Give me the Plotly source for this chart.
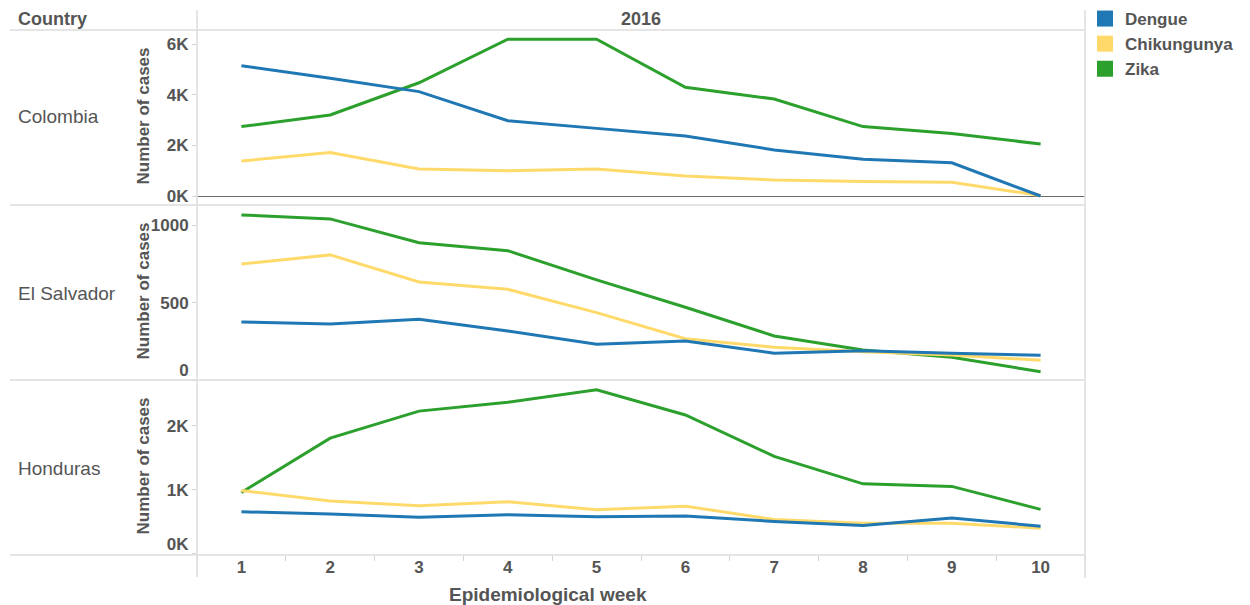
import plotly.graph_objects as go
from plotly.subplots import make_subplots

# ---------------- data ----------------
weeks = [1, 2, 3, 4, 5, 6, 7, 8, 9, 10]
countries = ["Colombia", "El Salvador", "Honduras"]
diseases = ["Dengue", "Chikungunya", "Zika"]

colombia_dengue = [5140, 4650, 4120, 2970, 2670, 2370, 1820, 1450, 1310, 0]
colombia_chik = [1380, 1720, 1070, 1000, 1070, 790, 630, 570, 540, 20]
colombia_zika = [2740, 3200, 4470, 6190, 6190, 4290, 3830, 2740, 2470, 2050]

elsalvador_dengue = [376, 363, 393, 317, 231, 253, 173, 190, 173, 160]
elsalvador_chik = [751, 810, 635, 587, 436, 267, 212, 183, 162, 128]
elsalvador_zika = [1069, 1043, 889, 837, 648, 471, 285, 194, 147, 54]

honduras_dengue = [652, 615, 565, 605, 575, 585, 500, 437, 554, 426]
honduras_chik = [985, 820, 745, 810, 683, 740, 530, 470, 470, 395]
honduras_zika = [955, 1806, 2230, 2370, 2565, 2170, 1520, 1090, 1050, 690]

colombia_ticks = [0, 2000, 4000, 6000]
colombia_ticktext = ["0K", "2K", "4K", "6K"]
elsalvador_ticks = [500, 1000]
elsalvador_ticktext = ["500", "1000"]
elsalvador_base_tick = [0]
elsalvador_base_text = ["0"]
honduras_ticks = [1000, 2000]
honduras_ticktext = ["1K", "2K"]
honduras_base_tick = [0]
honduras_base_text = ["0K"]

colors = {"Dengue": "#1f77b4", "Chikungunya": "#ffda6b", "Zika": "#2ca02c"}

series = {
    "Colombia": {"Dengue": colombia_dengue, "Chikungunya": colombia_chik, "Zika": colombia_zika},
    "El Salvador": {"Dengue": elsalvador_dengue, "Chikungunya": elsalvador_chik, "Zika": elsalvador_zika},
    "Honduras": {"Dengue": honduras_dengue, "Chikungunya": honduras_chik, "Zika": honduras_zika},
}

# ---------------- figure ----------------
W, H = 1250, 605
TXT = "#555555"
FONT = "Liberation Sans, Arial, sans-serif"

fig = make_subplots(rows=3, cols=1, shared_xaxes=True, vertical_spacing=0)

draw_order = ["Zika", "Chikungunya", "Dengue"]
for r, c in enumerate(countries, start=1):
    for d in draw_order:
        fig.add_trace(
            go.Scatter(x=weeks, y=series[c][d], mode="lines", name=d,
                       line=dict(color=colors[d], width=3), showlegend=False),
            row=r, col=1)

# legend entries (squares)
for d in diseases:
    fig.add_trace(go.Scatter(x=[None], y=[None], mode="markers", name=d,
                             marker=dict(symbol="square", size=16, color=colors[d]),
                             showlegend=True), row=1, col=1)

def px_x(p):
    return p / W

def px_y(p):
    return 1 - p / H

x0, x1 = 197, 1085
rows_px = [(30, 205), (205, 380), (380, 555)]

fig.update_layout(
    width=W, height=H,
    margin=dict(l=0, r=0, t=0, b=0, autoexpand=False),
    paper_bgcolor="white", plot_bgcolor="white",
    font=dict(family=FONT, color=TXT, size=17),
    legend=dict(x=px_x(1085), y=px_y(1), xanchor="left", yanchor="top",
                font=dict(size=17, color=TXT, weight="bold"),
                itemsizing="trace", tracegroupgap=0, bgcolor="rgba(0,0,0,0)"),
    hovermode=False,
)

ranges = [[-355, 6553], [0, 1133], [-26, 2718]]
tickv = [colombia_ticks, elsalvador_ticks, honduras_ticks]
tickt = [colombia_ticktext, elsalvador_ticktext, honduras_ticktext]
ytick_style = dict(ticks="outside", ticklen=4, tickcolor="#d4d4d4", automargin=False,
                   tickfont=dict(size=17, color=TXT, weight="bold"))
for i in range(3):
    top, bot = rows_px[i]
    yname = "yaxis" if i == 0 else f"yaxis{i+1}"
    xname = "xaxis" if i == 0 else f"xaxis{i+1}"
    fig.layout[yname].update(
        domain=[px_y(bot), px_y(top)], range=ranges[i],
        tickvals=tickv[i], ticktext=tickt[i],
        showgrid=False, showline=False,
        zeroline=(i == 0), zerolinecolor="#6b6b6b", zerolinewidth=1,
        **ytick_style,
    )
    fig.layout[xname].update(
        domain=[px_x(x0), px_x(x1)], range=[0.5, 10.5],
        showgrid=False, zeroline=False, showline=False, automargin=False,
        tickvals=weeks, ticks="",
        showticklabels=(i == 2),
        tickfont=dict(size=17, color=TXT, weight="bold"),
    )
fig.layout.xaxis3.update(
    ticklabelstandoff=0,
    minor=dict(tick0=0.5, dtick=1, ticks="outside", ticklen=5, tickcolor="#d4d4d4"),
)

# base (zero) labels lifted off the panel edge, as in the original
fig.update_layout(
    yaxis4=dict(overlaying="y2", anchor="x2", side="left", range=ranges[1],
                domain=[px_y(rows_px[1][1]), px_y(rows_px[1][0])],
                tickvals=elsalvador_base_tick, ticktext=elsalvador_base_text,
                ticklabelshift=-10, showgrid=False, zeroline=False, showline=False,
                **ytick_style),
    yaxis5=dict(overlaying="y3", anchor="x3", side="left", range=ranges[2],
                domain=[px_y(rows_px[2][1]), px_y(rows_px[2][0])],
                tickvals=honduras_base_tick, ticktext=honduras_base_text,
                ticklabelshift=-9, showgrid=False, zeroline=False, showline=False,
                **ytick_style),
)
fig.add_trace(go.Scatter(x=[None], y=[None], xaxis="x2", yaxis="y4", showlegend=False))
fig.add_trace(go.Scatter(x=[None], y=[None], xaxis="x3", yaxis="y5", showlegend=False))

shapes = []
LINE = "#dcdcdc"
for yy in [30, 205, 380, 555]:
    shapes.append(dict(type="line", xref="paper", yref="paper",
                       x0=px_x(10), x1=px_x(x1), y0=px_y(yy), y1=px_y(yy),
                       line=dict(color=LINE, width=1.5)))
shapes.append(dict(type="line", xref="paper", yref="paper",
                   x0=px_x(x0), x1=px_x(x0), y0=px_y(10), y1=px_y(577),
                   line=dict(color=LINE, width=1.5)))
shapes.append(dict(type="line", xref="paper", yref="paper",
                   x0=px_x(x1), x1=px_x(x1), y0=px_y(10), y1=px_y(578),
                   line=dict(color=LINE, width=1.5)))
fig.update_layout(shapes=shapes)

ann = []
ann.append(dict(text="Country", x=px_x(16), y=px_y(19), xref="paper", yref="paper",
                xanchor="left", yanchor="middle", showarrow=False,
                font=dict(size=18, color=TXT, weight="bold")))
ann.append(dict(text="2016", x=px_x(641), y=px_y(19), xref="paper", yref="paper",
                xanchor="center", yanchor="middle", showarrow=False,
                font=dict(size=18, color=TXT, weight="bold")))
ann.append(dict(text="Epidemiological week", x=px_x(548), y=px_y(594), xref="paper", yref="paper",
                xanchor="center", yanchor="middle", showarrow=False,
                font=dict(size=19, color=TXT, weight="bold")))
label_y = [117, 293, 468]
for i, c in enumerate(countries):
    top, bot = rows_px[i]
    ann.append(dict(text=c, x=px_x(16), y=px_y(label_y[i]), xref="paper", yref="paper",
                    xanchor="left", yanchor="middle", showarrow=False,
                    font=dict(size=19, color=TXT)))
    ann.append(dict(text="Number of cases", x=px_x(143), y=px_y((top + bot) / 2 - 1),
                    xref="paper", yref="paper", xanchor="center", yanchor="middle",
                    textangle=-90, showarrow=False,
                    font=dict(size=17, color=TXT, weight="bold")))
fig.update_layout(annotations=ann)

fig.write_html("out.html", config={"displayModeBar": False},
               post_script="document.body.style.margin='0';")
